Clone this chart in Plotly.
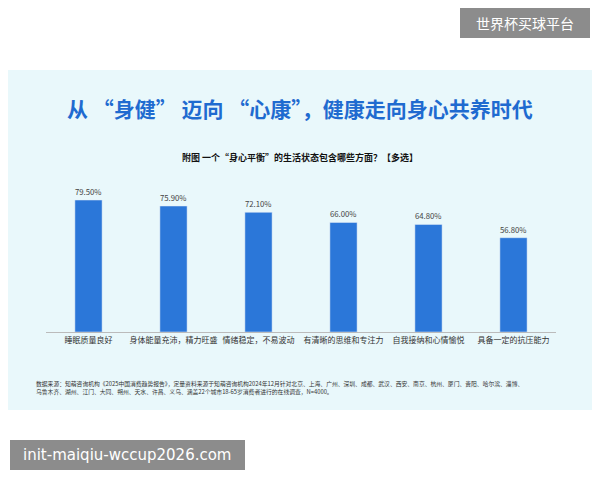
import plotly.graph_objects as go

categories = ["睡眠质量良好", "身体能量充沛，精力旺盛", "情绪稳定，不易波动",
              "有清晰的思维和专注力", "自我接纳和心情愉悦", "具备一定的抗压能力"]
values = [79.5, 75.9, 72.1, 66.0, 64.8, 56.8]
labels = ["79.50%", "75.90%", "72.10%", "66.00%", "64.80%", "56.80%"]

# page has an 8px offset; target plot area: x 46..556, y 166..332 px
OFF = 8
L, R, T, B = 46 - OFF, 44 + OFF, 166 - OFF, 148 + OFF
W, H = 600 - L - R, 480 - T - B

def px(x):
    return (x - OFF - L) / W

def py(y):
    return (480 - B - (y - OFF)) / H

fig = go.Figure(go.Bar(
    x=categories, y=values, text=labels, textposition="outside",
    textfont=dict(size=8, color="#444"), marker_color="#2b77d9",
    cliponaxis=False,
))

shapes = [
    dict(type="rect", xref="paper", yref="paper", x0=px(-20), x1=px(620),
         y0=py(410), y1=py(70), fillcolor="#e9f8fb", line_width=0, layer="below"),
    dict(type="rect", xref="paper", yref="paper", x0=px(460), x1=px(590),
         y0=py(38), y1=py(8), fillcolor="rgba(120,120,120,0.85)", line_width=0),
    dict(type="rect", xref="paper", yref="paper", x0=px(10), x1=px(245),
         y0=py(470), y1=py(440), fillcolor="rgba(120,120,120,0.85)", line_width=0),
]

font = "Noto Sans CJK SC"
annotations = [
    dict(text="<b>从 “身健” 迈向 “心康”，健康走向身心共养时代</b>", x=px(300), y=py(108),
         font=dict(size=21, color="#1f6bd0")),
    dict(text="<b>附图 一个“身心平衡”的生活状态包含哪些方面？【多选】</b>", x=px(300), y=py(157),
         font=dict(size=9, color="#111")),
    dict(text="数据来源：知萌咨询机构《2025中国消费趋势报告》，定量资料来源于知萌咨询机构2024年12月针对北京、上海、广州、深圳、成都、武汉、西安、南京、杭州、厦门、贵阳、哈尔滨、淄博、"
              "<br>乌鲁木齐、湖州、江门、大同、朔州、天水、许昌、义乌、涵盖22个城市18-65岁消费者进行的在线调查，N=4000。",
         x=px(34), y=py(387), xanchor="left", align="left",
         font=dict(size=5.8, color="#333")),
    dict(text="世界杯买球平台", x=px(525), y=py(23), font=dict(size=14, color="white")),
    dict(text="init-maiqiu-wccup2026.com", x=px(127), y=py(455),
         font=dict(size=15, color="white", family="DejaVu Sans")),
]
for a in annotations:
    a.update(xref="paper", yref="paper", showarrow=False)
    a.setdefault("xanchor", "center")
    a["yanchor"] = "middle"

fig.update_layout(
    width=600, height=480, margin=dict(l=L, r=R, t=T, b=B),
    paper_bgcolor="white", plot_bgcolor="rgba(0,0,0,0)",
    font=dict(family=font), bargap=0.68, showlegend=False,
    xaxis=dict(showgrid=False, showline=True, linecolor="#bbb", linewidth=1,
               tickfont=dict(size=8, color="#333"), ticks=""),
    yaxis=dict(range=[0, 100], visible=False),
    shapes=shapes, annotations=annotations,
)
fig.write_html("out.html")
